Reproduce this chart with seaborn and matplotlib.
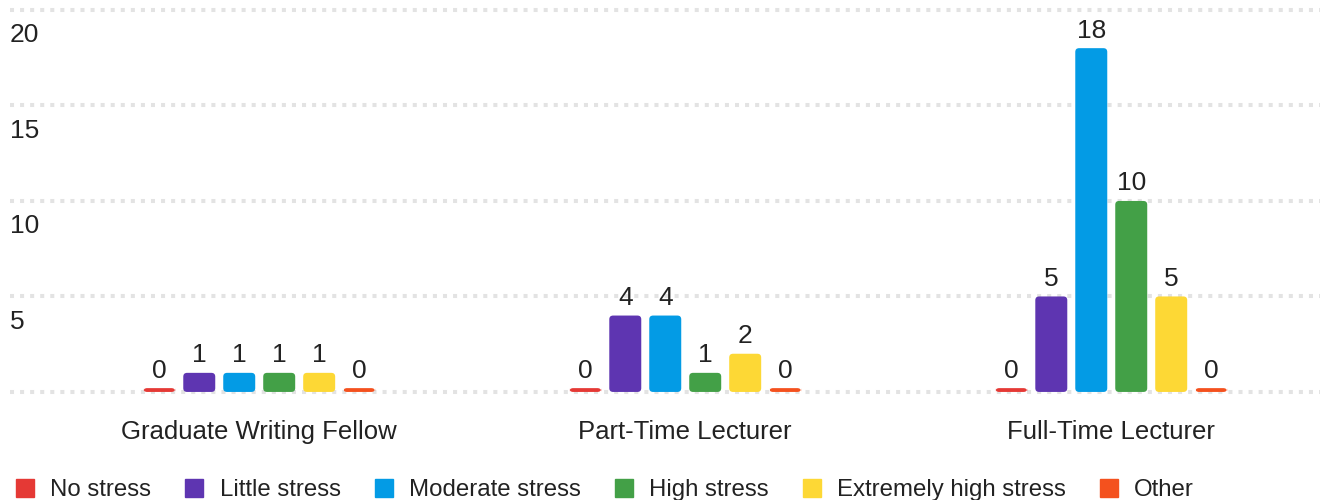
import seaborn as sns
import matplotlib.pyplot as plt
import pandas as pd
from matplotlib.patches import FancyBboxPatch
from matplotlib.lines import Line2D
from matplotlib.transforms import ScaledTranslation

# data
roles = ["Graduate Writing Fellow", "Part-Time Lecturer", "Full-Time Lecturer"]
levels = ["No stress", "Little stress", "Moderate stress", "High stress",
          "Extremely high stress", "Other"]
no_stress = [0, 0, 0]
little_stress = [1, 4, 5]
moderate_stress = [1, 4, 18]
high_stress = [1, 1, 10]
extreme_stress = [1, 2, 5]
other = [0, 0, 0]
colors = ["#E53935", "#5E35B1", "#039BE5", "#43A047", "#FDD835", "#F4511E"]

series = [no_stress, little_stress, moderate_stress, high_stress, extreme_stress, other]
df = pd.DataFrame([
    {"role": r, "level": lv, "count": vals[i]}
    for lv, vals in zip(levels, series)
    for i, r in enumerate(roles)
])

sns.set_theme(style="white")
plt.rcParams['font.family'] = ['Liberation Sans', 'DejaVu Sans']
txt = "#222222"

fig = plt.figure(figsize=(13.25, 5), dpi=100)
ax = fig.add_axes([10 / 1325, 1 - 395 / 500, 1310 / 1325, 390 / 500])

sns.barplot(data=df, x="role", y="count", hue="level", order=roles,
            hue_order=levels, palette=colors, width=0.563, gap=0.2,
            saturation=1, legend=False, ax=ax, zorder=3)

ax.set_xlim(-0.585, 2.49)
ax.set_ylim(-0.16, 20.26)

# zero values drawn as small stubs
for c in ax.containers:
    for p in c:
        if p.get_height() == 0:
            p.set_height(0.2)
    ax.bar_label(c, labels=[f"{v:g}" for v in c.datavalues], padding=4,
                 fontsize=19, color=txt)

# rounded bars
for p in list(ax.patches):
    x, y = p.get_xy()
    w, h = p.get_width(), p.get_height()
    rb = FancyBboxPatch((x, y), w, h,
                        boxstyle="round,pad=0,rounding_size=0.009",
                        mutation_aspect=22, facecolor=p.get_facecolor(),
                        edgecolor="none", zorder=3)
    p.set_visible(False)
    ax.add_patch(rb)

# dotted gridlines
for v in [0, 5, 10, 15, 20]:
    ax.axhline(v, color="#e3e3e3", lw=2.9, ls=(0, (1, 1.5)), zorder=1)

sns.despine(ax=ax, left=True, bottom=True)
ax.set_yticks([5, 10, 15, 20])
ax.tick_params(axis="y", length=0, pad=0, labelsize=19, labelcolor=txt)
for lab in ax.get_yticklabels():
    lab.set_horizontalalignment("left")
    lab.set_transform(lab.get_transform() + ScaledTranslation(0, -0.23, fig.dpi_scale_trans))
ax.tick_params(axis="x", length=0, pad=18, labelsize=18.5, labelcolor=txt)
ax.set_xlabel("")
ax.set_ylabel("")

handles = [Line2D([], [], marker="s", ls="none", markersize=13,
                  markerfacecolor=c, markeredgecolor=c) for c in colors]
fig.legend(handles, levels, ncol=6, loc="center left",
           bbox_to_anchor=(0.0026, 0.02), frameon=False, fontsize=17.3,
           handlelength=1.0, handletextpad=0.55, columnspacing=1.29,
           labelcolor=txt, borderaxespad=0)

fig.savefig("out.png", dpi=100)
